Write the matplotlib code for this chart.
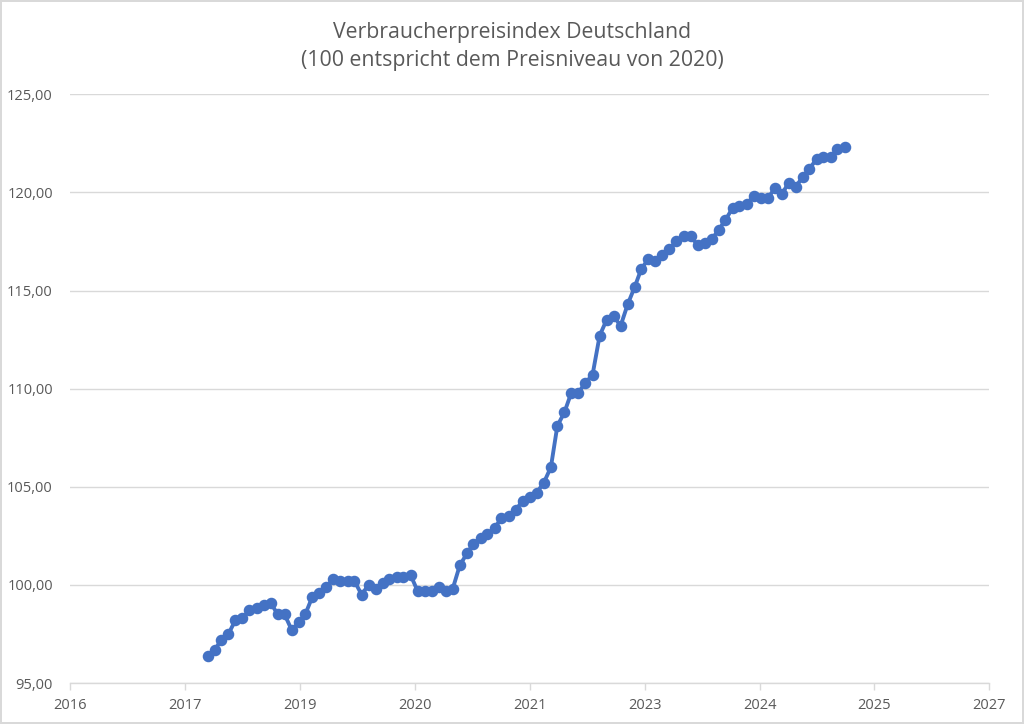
import matplotlib
matplotlib.use("Agg")
import matplotlib.pyplot as plt
import matplotlib.dates as mdates
import matplotlib.ticker as mticker
import pandas as pd
import datetime as dt

# Monthly CPI Germany (2020 = 100), Jan 2018 - Aug 2025
months = pd.date_range("2018-01-01", "2025-08-01", freq="MS")
cpi = [
    96.4, 96.7, 97.2, 97.5, 98.2, 98.3, 98.7, 98.8, 99.0, 99.1, 98.5, 98.5,      # 2018
    97.7, 98.1, 98.5, 99.4, 99.6, 99.9, 100.3, 100.2, 100.2, 100.2, 99.5, 100.0, # 2019
    99.8, 100.1, 100.3, 100.4, 100.4, 100.5, 99.7, 99.7, 99.7, 99.9, 99.7, 99.8, # 2020
    101.0, 101.6, 102.1, 102.4, 102.6, 102.9, 103.4, 103.5, 103.8, 104.3, 104.5, 104.7,  # 2021
    105.2, 106.0, 108.1, 108.8, 109.8, 109.8, 110.3, 110.7, 112.7, 113.5, 113.7, 113.2,  # 2022
    114.3, 115.2, 116.1, 116.6, 116.5, 116.8, 117.1, 117.5, 117.8, 117.8, 117.3, 117.4,  # 2023
    117.6, 118.1, 118.6, 119.2, 119.3, 119.4, 119.8, 119.7, 119.7, 120.2, 119.9, 120.5,  # 2024
    120.3, 120.8, 121.2, 121.7, 121.8, 121.8, 122.2, 122.3,                          # 2025
]

title_text = "Verbraucherpreisindex Deutschland\n(100 entspricht dem Preisniveau von 2020)"
y_ticks = [95, 100, 105, 110, 115, 120, 125]
# Excel date axis: serial 42500 .. 46500, major unit 500 days
excel_epoch = dt.datetime(1899, 12, 30)
x_tick_serials = [42500, 43000, 43500, 44000, 44500, 45000, 45500, 46000, 46500]
x_ticks = [excel_epoch + dt.timedelta(days=s) for s in x_tick_serials]

TEXT = "#595959"
GRID = "#D9D9D9"
LINE = "#4472C4"
FONT = ["Open Sans", "DejaVu Sans"]

plt.rcParams["font.family"] = FONT

fig = plt.figure(figsize=(10.24, 7.24), dpi=100, facecolor="white",
                 edgecolor=GRID, linewidth=1.5)
ax = fig.add_axes([0.0679, 0.0566, 0.8984, 0.8132])

ax.plot(months, cpi, color=LINE, linewidth=2.8, marker="o", markersize=7.3,
        markerfacecolor=LINE, markeredgecolor=LINE, solid_capstyle="round",
        solid_joinstyle="round", zorder=3)

ax.set_xlim(x_ticks[0], x_ticks[-1])
ax.set_ylim(95, 125)
ax.set_yticks(y_ticks)
ax.yaxis.set_major_formatter(mticker.FuncFormatter(lambda v, p: f"{v:.2f}".replace(".", ",")))
ax.set_xticks(x_ticks)
ax.xaxis.set_major_formatter(mdates.DateFormatter("%Y"))

ax.grid(axis="y", color=GRID, linewidth=1.0, zorder=0)
for s in ["top", "right", "left"]:
    ax.spines[s].set_visible(False)
ax.spines["bottom"].set_color(GRID)
ax.spines["bottom"].set_linewidth(1.0)

ax.tick_params(axis="y", length=0, pad=12, labelsize=10.5, labelcolor=TEXT)
ax.tick_params(axis="x", length=5, width=1, color=GRID, pad=6, labelsize=10.5, labelcolor=TEXT)

fig.text(0.5, 0.9355, title_text, ha="center", va="center", fontsize=15.3,
         color=TEXT, linespacing=1.4)

fig.savefig("out.png", dpi=100, facecolor=fig.get_facecolor(), edgecolor=fig.get_edgecolor())
